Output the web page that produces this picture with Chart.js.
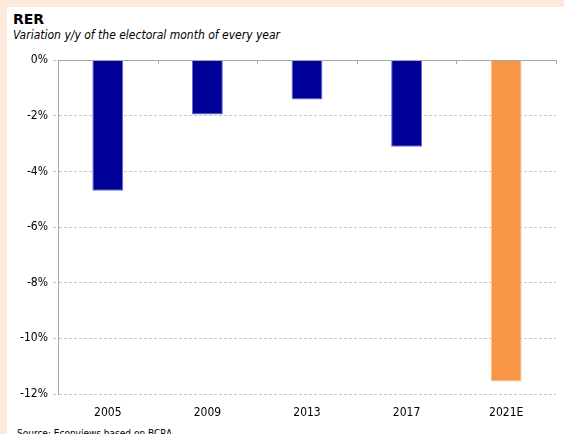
<!DOCTYPE html>
<html>
<head>
<meta charset="utf-8">
<script src="https://cdn.jsdelivr.net/npm/chart.js@4"></script>
<style>
  body { margin: 0; background: #fde9dc; width: 564px; height: 434px; overflow: hidden; position: relative; }
  #panel { position: absolute; left: 7px; top: 7px; width: 557px; height: 440px; background: #fff; }
  #title { position: absolute; left: 6px; top: 4px; font: bold 14px "DejaVu Sans", sans-serif; color: #000; }
  #subtitle { position: absolute; left: 6px; top: 21px; font: italic 12px "DejaVu Sans Condensed", "DejaVu Sans", sans-serif; color: #000; }
  #source { position: absolute; left: 10px; top: 421px; font: 10px "DejaVu Sans Condensed", "DejaVu Sans", sans-serif; color: #000; }
  #wrap { position: absolute; left: 0; top: 41px; width: 557px; height: 376px; }
</style>
</head>
<body>
<div id="panel">
  <div id="title">RER</div>
  <div id="subtitle">Variation y/y of the electoral month of every year</div>
  <div id="wrap"><canvas id="chartRER"></canvas></div>
  <div id="source">Source: Econviews based on BCRA</div>
</div>
<script>
// datos
const years = ['2005', '2009', '2013', '2017', '2021E'];
const rerChange = [-4.69, -1.95, -1.41, -3.11, -11.55];
const barColors = ['#000099', '#000099', '#000099', '#000099', '#f79646'];
const barBorders = ['#6b6bd0', '#6b6bd0', '#6b6bd0', '#6b6bd0', '#fbc594'];

// marcas del eje en la linea del 0%, entre categorias
const topTicks = {
  id: 'topTicks',
  afterDatasetsDraw(chart) {
    const x = chart.scales.x, y = chart.scales.y;
    const ctx = chart.ctx;
    const y0 = Math.round(y.getPixelForValue(0));
    const half = (x.getPixelForValue(1) - x.getPixelForValue(0)) / 2;
    ctx.save();
    ctx.strokeStyle = '#a6a6a6';
    ctx.lineWidth = 1;
    ctx.beginPath();
    ctx.moveTo(chart.chartArea.left, y0 + 0.5);
    ctx.lineTo(chart.chartArea.right, y0 + 0.5);
    for (let i = 0; i < years.length; i++) {
      const px = Math.round(x.getPixelForValue(i) + half) + 0.5;
      ctx.moveTo(px, y0);
      ctx.lineTo(px, y0 + 4);
    }
    ctx.stroke();
    ctx.restore();
  }
};

new Chart(document.getElementById('chartRER'), {
  type: 'bar',
  data: {
    labels: years,
    datasets: [{
      data: rerChange,
      backgroundColor: barColors,
      borderColor: barBorders,
      borderWidth: 1,
      borderSkipped: 'start',
      categoryPercentage: 1,
      barPercentage: 0.31
    }]
  },
  options: {
    responsive: true,
    maintainAspectRatio: false,
    animation: false,
    layout: { padding: { top: 10, right: 8, left: 0, bottom: 0 } },
    plugins: { legend: { display: false }, tooltip: { enabled: false } },
    scales: {
      x: {
        grid: { display: false },
        border: { display: false },
        ticks: { color: '#000', padding: 4, font: { family: 'DejaVu Sans Condensed, DejaVu Sans', size: 12 } },
        afterFit: s => { s.height = 30; }
      },
      y: {
        min: -12,
        max: 0,
        ticks: {
          stepSize: 2,
          color: '#000',
          padding: 5,
          font: { family: 'DejaVu Sans Condensed, DejaVu Sans', size: 12 },
          callback: v => v + '%'
        },
        grid: {
          color: ctx => ctx.tick && ctx.tick.value === 0 ? 'rgba(0,0,0,0)' : '#c8c8c8',
          tickLength: 5,
          tickColor: '#c8c8c8',
          tickBorderDash: [3, 2]
        },
        border: { display: true, color: '#a6a6a6', dash: [3, 2] },
        afterFit: s => { s.width = 51; }
      }
    }
  },
  plugins: [topTicks]
});
</script>
</body>
</html>
